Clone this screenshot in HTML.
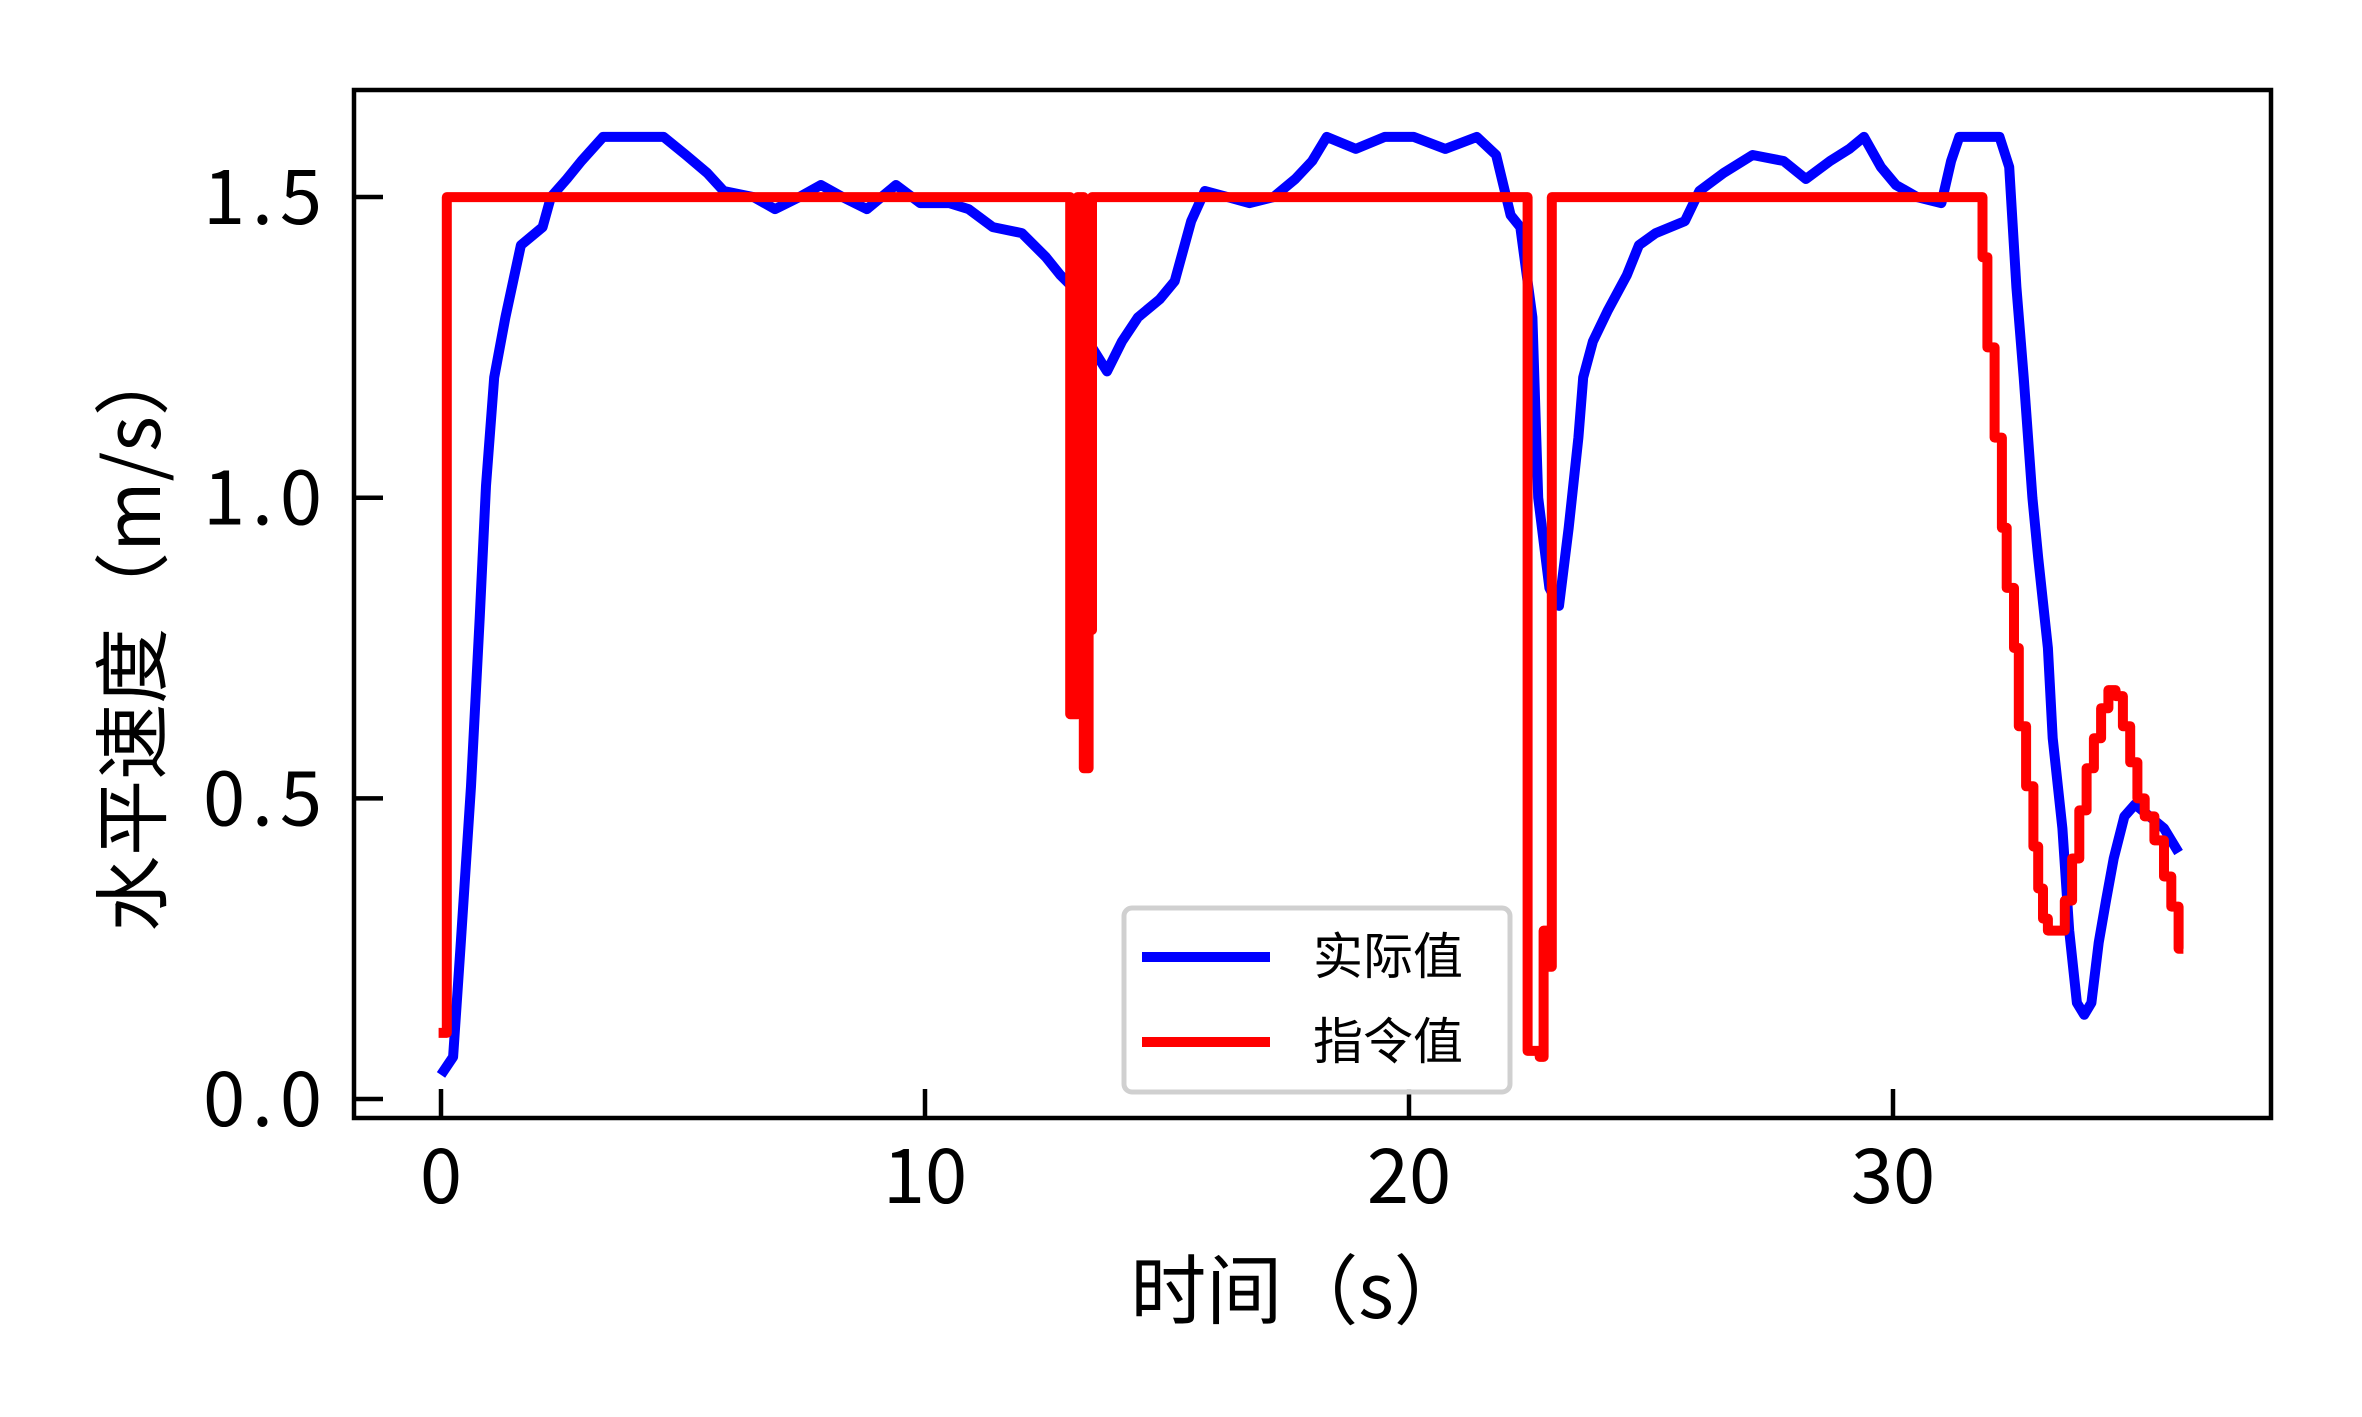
<!DOCTYPE html>
<html><head><meta charset="utf-8">
<style>
html,body{margin:0;padding:0;background:#fff;}
svg{display:block;}
text{font-family:"Liberation Sans","Noto Sans CJK SC",sans-serif;fill:#000;}
.cjk{font-family:"Noto Sans CJK SC","WenQuanYi Zen Hei",sans-serif;}
</style></head>
<body>
<svg id="chart" width="2362" height="1417" viewBox="0 0 2362 1417" xmlns="http://www.w3.org/2000/svg">
<rect x="0" y="0" width="2362" height="1417" fill="#fff"/>
<g id="plot"></g>
<g id="axes"></g>
</svg>
<script>
const actualT = [0,0.25,0.4,0.62,0.8,0.93,1.1,1.33,1.65,2.1,2.27,2.6,2.9,3.35,4.6,5.06,5.5,5.84,6.46,6.9,7.4,7.85,8.3,8.8,9.4,9.9,10.5,10.9,11.4,12.0,12.5,12.8,13.05,13.3,13.45,13.76,14.07,14.4,14.85,15.16,15.5,15.78,16.25,16.7,17.2,17.65,18.0,18.3,18.9,19.5,20.1,20.75,21.4,21.8,22.1,22.3,22.55,22.67,22.9,23.1,23.3,23.5,23.6,23.8,24.1,24.5,24.75,25.1,25.7,26.0,26.5,27.1,27.74,28.2,28.7,29.1,29.4,29.75,30.06,30.5,31.0,31.2,31.37,32.2,32.4,32.55,32.7,32.88,33.0,33.2,33.3,33.5,33.64,33.8,33.95,34.1,34.25,34.4,34.56,34.78,35.0,35.3,35.6,35.9];
const actualV = [0.04,0.07,0.25,0.52,0.8,1.02,1.2,1.3,1.42,1.45,1.5,1.53,1.56,1.6,1.6,1.57,1.54,1.51,1.5,1.48,1.5,1.52,1.5,1.48,1.52,1.49,1.49,1.48,1.45,1.44,1.4,1.37,1.35,1.32,1.25,1.21,1.26,1.3,1.33,1.36,1.46,1.51,1.5,1.49,1.5,1.53,1.56,1.6,1.58,1.6,1.6,1.58,1.6,1.57,1.47,1.45,1.3,1.0,0.85,0.82,0.95,1.1,1.2,1.26,1.31,1.37,1.42,1.44,1.46,1.51,1.54,1.57,1.56,1.53,1.56,1.58,1.6,1.55,1.52,1.5,1.49,1.56,1.6,1.6,1.55,1.35,1.2,1.0,0.9,0.75,0.6,0.45,0.28,0.16,0.14,0.16,0.26,0.33,0.4,0.47,0.49,0.47,0.45,0.41];
const cmdT = [-0.05,0.12,13.0,13.15,13.28,13.38,13.45,22.45,22.7,22.78,22.88,22.95,31.85,31.95,32.1,32.25,32.35,32.5,32.6,32.75,32.9,33.0,33.1,33.2,33.4,33.55,33.7,33.85,34.0,34.15,34.3,34.45,34.6,34.75,34.9,35.05,35.2,35.4,35.6,35.75,35.9,36.0];
const cmdV = [0.11,1.5,0.64,1.5,0.55,0.78,1.5,0.08,0.07,0.28,0.22,1.5,1.4,1.25,1.1,0.95,0.85,0.75,0.62,0.52,0.42,0.35,0.3,0.28,0.28,0.33,0.4,0.48,0.55,0.6,0.65,0.68,0.67,0.62,0.56,0.5,0.47,0.43,0.37,0.32,0.25,0.25];
const xTicks = [0,10,20,30];
const xTickLabels = ["0","10","20","30"];
const yTicks = [0,0.5,1.0,1.5];
const yTickLabels = ["0.0","0.5","1.0","1.5"];

const NS="http://www.w3.org/2000/svg";
const L=354,R=2271,T=90,B=1118;
function X(t){return 441+t*48.4;}
function Y(v){return 1099-v*601.3;}
function mk(tag,attrs,parent){const e=document.createElementNS(NS,tag);for(const k in attrs)e.setAttribute(k,attrs[k]);parent.appendChild(e);return e;}
const plot=document.getElementById('plot');
const axes=document.getElementById('axes');

let d='';
actualT.forEach((t,i)=>{d+=(i?'L':'M')+X(t).toFixed(1)+' '+Y(actualV[i]).toFixed(1);});
const blue=mk('path',{d:d,fill:'none',stroke:'#0000ff','stroke-width':10,'stroke-linejoin':'round'},plot);


let d2='';
cmdT.forEach((t,i)=>{
  if(i===0){d2+='M'+X(t).toFixed(1)+' '+Y(cmdV[0]).toFixed(1);}
  else{d2+='L'+X(t).toFixed(1)+' '+Y(cmdV[i-1]).toFixed(1)+'L'+X(t).toFixed(1)+' '+Y(cmdV[i]).toFixed(1);}
});
const red=mk('path',{d:d2,fill:'none',stroke:'#ff0000','stroke-width':10,'stroke-linejoin':'round'},plot);



const frame=mk('rect',{x:L,y:T,width:R-L,height:B-T,fill:'none',stroke:'#000','stroke-width':4.5},axes);


xTicks.forEach((v,i)=>{
  const tk=mk('line',{x1:X(v),x2:X(v),y1:B,y2:B-29,stroke:'#000','stroke-width':4.5},axes);
  
  
  const tl=mk('text',{x:X(v),y:1203,'font-size':76,'text-anchor':'middle',class:'cjk'},axes);
  tl.textContent=xTickLabels[i];
  
  
});
yTicks.forEach((v,i)=>{
  const tk=mk('line',{x1:L,x2:L+29,y1:Y(v),y2:Y(v),stroke:'#000','stroke-width':4.5},axes);
  
  
  const tl=mk('text',{x:203,y:Y(v)+27,'font-size':76,textLength:119,lengthAdjust:'spacing',class:'cjk'},axes);
  tl.textContent=yTickLabels[i];
  
  
});
</script>
<svg style="position:absolute;left:0;top:0" width="2362" height="1417" viewBox="0 0 2362 1417" xmlns="http://www.w3.org/2000/svg">
<text class="cjk" x="1300" y="1318" font-size="76" text-anchor="middle">时间（s）</text>
<text class="cjk" transform="translate(160,636) rotate(-90)" x="0" y="0" font-size="76" text-anchor="middle">水平速度（m/s）</text>
<g>
<rect x="1124" y="908" width="386" height="184" rx="8" fill="#fff" fill-opacity="0.85" stroke="#d0d0d0" stroke-width="5"/>
<line x1="1142" y1="957" x2="1270" y2="957" stroke="#0000ff" stroke-width="10"/>
<text class="cjk" x="1313" y="974" font-size="50">实际值</text>
<line x1="1142" y1="1042" x2="1270" y2="1042" stroke="#ff0000" stroke-width="10"/>
<text class="cjk" x="1313" y="1059" font-size="50">指令值</text>
</g>
</svg>
</body></html>
